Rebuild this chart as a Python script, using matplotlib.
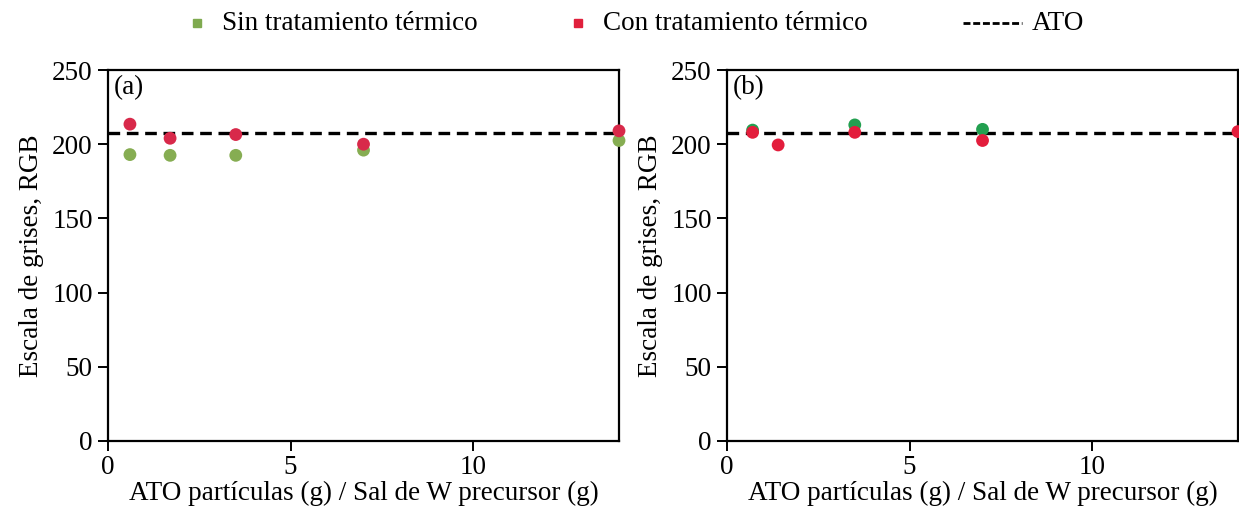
import matplotlib
matplotlib.use("Agg")
import matplotlib.pyplot as plt
from matplotlib.lines import Line2D

plt.rcParams['font.family'] = ['Liberation Serif', 'DejaVu Serif']

# Ratio ATO particles / W precursor salt
x_a = [0.6, 1.7, 3.5, 7.0, 14.0]
sin_a = [193, 192.5, 192.5, 196, 202.5]
con_a = [213.5, 204, 206.5, 200, 209]

x_sin_b = [0.7, 3.5, 7.0]
sin_b = [209.5, 213, 210]
x_con_b = [0.7, 1.4, 3.5, 7.0, 14.0]
con_b = [208, 199.5, 208, 202.5, 208.5]

ato_level = 207.5

xticks = [0, 5, 10]
yticks = [0, 50, 100, 150, 200, 250]

FS = 19.5

fig = plt.figure(figsize=(12.39, 5.11), dpi=100)
ax_a = fig.add_axes([0.0872, 0.137, 0.4124, 0.726])
ax_b = fig.add_axes([0.5868, 0.137, 0.4124, 0.726])

panels = [
    (ax_a, "(a)", x_a, sin_a, x_a, con_a, "#86ad52", "#d8294a"),
    (ax_b, "(b)", x_sin_b, sin_b, x_con_b, con_b, "#23a050", "#e31d3c"),
]

for ax, tag, xs, ys, xc, yc, cg, cr in panels:
    ax.axhline(ato_level, color="black", lw=2.4, ls=(0, (3.5, 2)), zorder=2)
    ax.scatter(xs, ys, s=85, color=cg, edgecolors="none", zorder=3, clip_on=False)
    ax.scatter(xc, yc, s=85, color=cr, edgecolors="none", zorder=4, clip_on=False)
    ax.set_xlim(0, 14)
    ax.set_ylim(0, 250)
    ax.set_xticks(xticks)
    ax.set_yticks(yticks)
    ax.tick_params(direction="out", length=7, width=1.4, labelsize=FS)
    ax.tick_params(axis="x", pad=3)
    ax.tick_params(axis="y", pad=4)
    for sp in ax.spines.values():
        sp.set_linewidth(1.6)
    ax.set_xlabel("ATO partículas (g) / Sal de W precursor (g)", fontsize=FS, labelpad=1)
    ax.set_ylabel("Escala de grises, RGB", fontsize=FS, labelpad=6)
    ax.text(0.012, 0.985, tag, transform=ax.transAxes, fontsize=FS, va="top", ha="left")

# Legend row along the top of the figure
W, H = 1239, 511
ly = 1 - 23 / H
fig.add_artist(Line2D([197 / W], [ly], transform=fig.transFigure, ls="none",
                      marker="s", markersize=6, color="#7faa4f"))
fig.text(222 / W, ly, "Sin tratamiento térmico", fontsize=FS, va="center", ha="left")
fig.add_artist(Line2D([578 / W], [ly], transform=fig.transFigure, ls="none",
                      marker="s", markersize=6, color="#e0203c"))
fig.text(603 / W, ly, "Con tratamiento térmico", fontsize=FS, va="center", ha="left")
fig.add_artist(Line2D([963 / W, 1022 / W], [ly, ly], transform=fig.transFigure,
                      color="black", lw=2, ls=(0, (2.5, 1))))
fig.text(1032 / W, ly, "ATO", fontsize=FS, va="center", ha="left")

fig.savefig("out.png", dpi=100)
